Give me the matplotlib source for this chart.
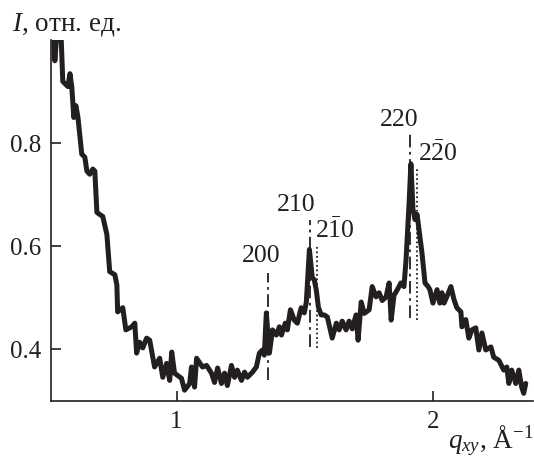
import matplotlib
matplotlib.use("Agg")
import matplotlib.pyplot as plt

plt.rcParams['font.family'] = ['Liberation Serif', 'DejaVu Serif']
plt.rcParams['mathtext.fontset'] = 'custom'
plt.rcParams['mathtext.rm'] = 'Liberation Serif'
plt.rcParams['mathtext.it'] = 'Liberation Serif:italic'

# scattering curve
q = [0.514, 0.520, 0.525, 0.531, 0.540, 0.550, 0.556, 0.576, 0.584, 0.591,
     0.599, 0.607, 0.615, 0.630, 0.642, 0.650, 0.661, 0.673, 0.681, 0.689,
     0.700, 0.712, 0.728, 0.739, 0.759, 0.767, 0.770, 0.790, 0.802, 0.825,
     0.837, 0.844, 0.856, 0.868, 0.883, 0.895, 0.914, 0.934, 0.946, 0.961,
     0.973, 0.981, 0.992, 1.019, 1.031, 1.051, 1.058, 1.070, 1.078, 1.101,
     1.117, 1.136, 1.148, 1.160, 1.175, 1.187, 1.198, 1.214, 1.226, 1.237,
     1.253, 1.265, 1.276, 1.296, 1.311, 1.323, 1.335, 1.342, 1.350, 1.362,
     1.374, 1.389, 1.401, 1.409, 1.424, 1.432, 1.444, 1.459, 1.471, 1.486,
     1.498, 1.506, 1.518, 1.529, 1.537, 1.545, 1.553, 1.564, 1.576, 1.588,
     1.607, 1.623, 1.634, 1.646, 1.661, 1.673, 1.685, 1.700, 1.708, 1.720,
     1.732, 1.751, 1.763, 1.778, 1.790, 1.802, 1.817, 1.829, 1.837, 1.848,
     1.860, 1.875, 1.887, 1.895, 1.907, 1.914, 1.922, 1.930, 1.938, 1.957,
     1.969, 1.981, 1.988, 2.000, 2.016, 2.027, 2.035, 2.043, 2.054, 2.070,
     2.082, 2.093, 2.109, 2.113, 2.128, 2.140, 2.152, 2.167, 2.179, 2.191,
     2.206, 2.226, 2.237, 2.257, 2.276, 2.288, 2.296, 2.307, 2.323, 2.335,
     2.346, 2.354, 2.362]
intensity = [1.02, 1.02, 0.96, 1.00, 1.01, 1.00, 0.92, 0.91, 0.935, 0.91,
             0.85, 0.873, 0.851, 0.779, 0.773, 0.746, 0.740, 0.750, 0.746, 0.666,
             0.662, 0.658, 0.623, 0.551, 0.545, 0.525, 0.473, 0.481, 0.438, 0.444,
             0.451, 0.393, 0.414, 0.403, 0.422, 0.418, 0.366, 0.383, 0.346, 0.373,
             0.340, 0.395, 0.354, 0.344, 0.321, 0.334, 0.366, 0.327, 0.383, 0.366,
             0.369, 0.354, 0.336, 0.364, 0.334, 0.354, 0.330, 0.369, 0.346, 0.360,
             0.340, 0.356, 0.346, 0.356, 0.366, 0.393, 0.399, 0.389, 0.471, 0.393,
             0.438, 0.428, 0.444, 0.428, 0.451, 0.438, 0.477, 0.457, 0.451, 0.481,
             0.471, 0.492, 0.594, 0.540, 0.535, 0.515, 0.482, 0.467, 0.467, 0.463,
             0.422, 0.451, 0.438, 0.455, 0.438, 0.455, 0.440, 0.467, 0.418, 0.492,
             0.470, 0.477, 0.522, 0.502, 0.510, 0.495, 0.502, 0.529, 0.457, 0.505,
             0.515, 0.529, 0.522, 0.574, 0.685, 0.760, 0.672, 0.652, 0.662, 0.588,
             0.529, 0.522, 0.516, 0.490, 0.516, 0.490, 0.510, 0.490, 0.502, 0.522,
             0.497, 0.481, 0.473, 0.444, 0.458, 0.422, 0.438, 0.442, 0.399, 0.432,
             0.399, 0.405, 0.385, 0.379, 0.360, 0.366, 0.334, 0.360, 0.334, 0.360,
             0.327, 0.315, 0.334]

# reflection markers: position, line bottom/top, label, label position, style
peak_q = [1.358, 1.521, 1.549, 1.911, 1.938]
peak_lo = [0.340, 0.405, 0.403, 0.461, 0.457]
peak_hi = [0.549, 0.652, 0.600, 0.824, 0.754]
peak_labels = ['200', '210', r'$2\bar{1}0$', '220', r'$2\bar{2}0$']
label_q = [1.329, 1.465, 1.619, 1.868, 2.019]
label_y = [0.570, 0.668, 0.617, 0.834, 0.766]
peak_styles = ['dashdot', 'dashdot', 'dotted', 'dashdot', 'dotted']

fig = plt.figure(figsize=(5.34, 4.62), dpi=100)
ax = fig.add_axes([0.0955, 0.132, 0.9025, 0.781])

ax.plot(q, intensity, color='#231f20', linewidth=3.6,
        solid_joinstyle='round', solid_capstyle='round')

for x, lo, hi, ls in zip(peak_q, peak_lo, peak_hi, peak_styles):
    if ls == 'dashdot':
        ax.plot([x, x], [lo, hi], color='#231f20', linewidth=1.3,
                dashes=(7, 2.5, 1.5, 2.5))
    else:
        ax.plot([x, x], [lo, hi], color='#231f20', linewidth=1.3,
                dashes=(1, 1.5))

for x, y, s in zip(label_q, label_y, peak_labels):
    ax.text(x, y, s, fontsize=18.5, ha='center', va='baseline', color='#231f20')

ax.set_xlim(0.510, 2.39)
ax.set_ylim(0.3, 1.0)
ax.set_xticks([1, 2])
ax.set_xticklabels(['1', '2'])
ax.set_yticks([0.4, 0.6, 0.8])
ax.set_yticklabels(['0.4', '0.6', '0.8'])

for side in ['top', 'right']:
    ax.spines[side].set_visible(False)
for side in ['left', 'bottom']:
    ax.spines[side].set_linewidth(1.2)
    ax.spines[side].set_color('#231f20')

ax.tick_params(direction='in', length=7, width=1.2, labelsize=18,
               colors='#231f20', pad=7)

fig.text(0.022, 0.935, r'$I$, отн. ед.', fontsize=19.5, color='#231f20',
         ha='left', va='baseline')
fig.text(0.999, 0.03, r'$q_{xy}$, Å$^{-1}$', fontsize=19.5, color='#231f20',
         ha='right', va='baseline')

fig.savefig('out.png', dpi=100)
